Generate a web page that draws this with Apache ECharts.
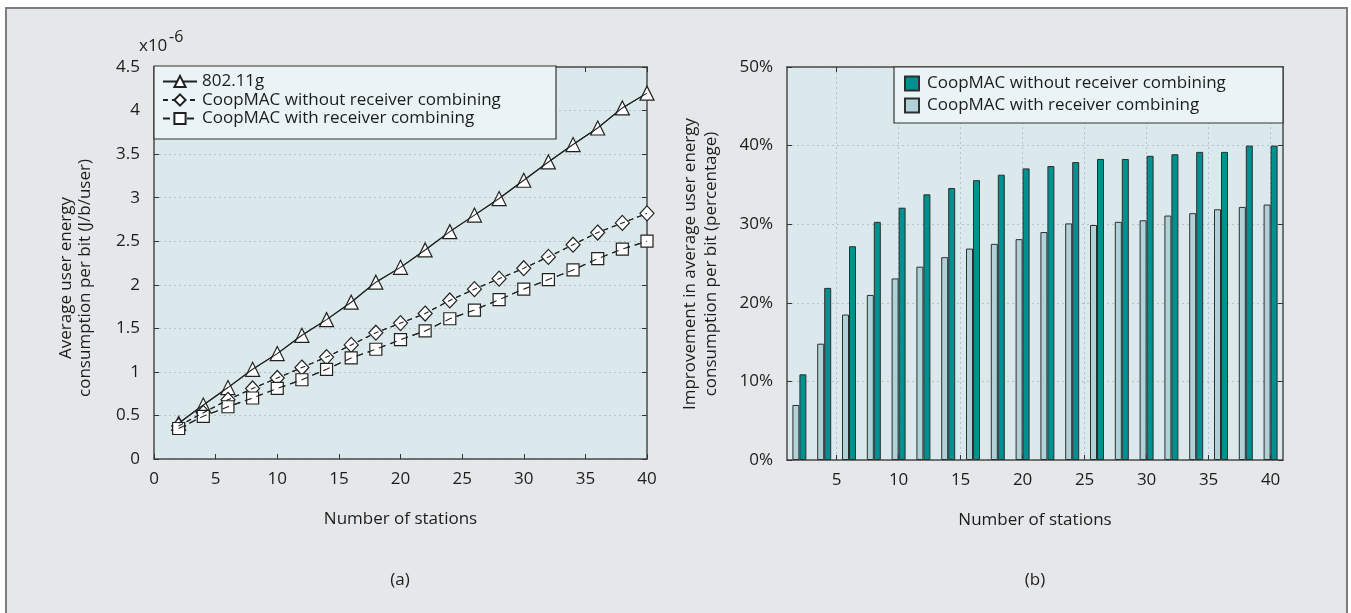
<!DOCTYPE html>
<html>
<head>
<meta charset="utf-8">
<script src="https://cdn.jsdelivr.net/npm/echarts@6/dist/echarts.min.js"></script>
<style>
  html, body { margin: 0; padding: 0; background: #ffffff; overflow: hidden; }
  #frame { position: absolute; left: 5px; top: 7px; width: 1343px; height: 620px;
           background: #e6e7e9; border: 2px solid #7d7d7d; box-sizing: border-box; }
  #chart { position: absolute; left: 0; top: 0; width: 1351px; height: 613px; }
</style>
</head>
<body>
<div id="frame"></div>
<div id="chart"></div>
<script>
// Number of stations (shared by both panels)
const stations = [2, 4, 6, 8, 10, 12, 14, 16, 18, 20, 22, 24, 26, 28, 30, 32, 34, 36, 38, 40];

// (a) Average user energy per bit, in units of 1e-6 J/b/user
const energy80211g   = [0.41, 0.62, 0.82, 1.03, 1.21, 1.42, 1.60, 1.80, 2.03, 2.20, 2.40, 2.61, 2.80, 2.99, 3.20, 3.41, 3.61, 3.80, 4.03, 4.20];
const energyCoopNoRx = [0.38, 0.53, 0.68, 0.81, 0.93, 1.05, 1.17, 1.31, 1.45, 1.56, 1.67, 1.82, 1.95, 2.07, 2.19, 2.32, 2.46, 2.60, 2.71, 2.82];
const energyCoopRx   = [0.35, 0.49, 0.60, 0.70, 0.81, 0.91, 1.03, 1.16, 1.26, 1.37, 1.47, 1.61, 1.71, 1.83, 1.95, 2.06, 2.17, 2.30, 2.41, 2.50];

// (b) Improvement in average user energy per bit (%)
const gainCoopNoRx = [10.9, 21.9, 27.2, 30.3, 32.1, 33.8, 34.6, 35.6, 36.3, 37.1, 37.4, 37.9, 38.3, 38.3, 38.7, 38.9, 39.2, 39.2, 40.0, 40.0];
const gainCoopRx   = [7.0, 14.8, 18.5, 21.0, 23.1, 24.6, 25.8, 26.9, 27.5, 28.1, 29.0, 30.1, 29.9, 30.3, 30.5, 31.1, 31.4, 31.9, 32.2, 32.5];

// Tick labels
const energyTicksX = [0, 5, 10, 15, 20, 25, 30, 35, 40];
const gainTicksX   = [5, 10, 15, 20, 25, 30, 35, 40];

const NAME_80211G = '802.11g';
const NAME_NO_RX  = 'CoopMAC without receiver combining';
const NAME_RX     = 'CoopMAC with receiver combining';
// panel (b) series carry a suffix so their legend picks the bar styling
const SUFFIX_B = ' (b)';

const FONT = "'Open Sans', 'Noto Sans', sans-serif";
const FS = 17;
const INK = '#1c1c1c';
const AXIS = '#4a4a4a';

const pairs = (xs, ys) => xs.map((x, i) => [x, ys[i]]);

const tickStyle = { inside: true, length: 5, lineStyle: { color: '#333', width: 1 } };
const lineAxis = { show: true, onZero: false, lineStyle: { color: AXIS, width: 1.5 } };
const dotted = { show: true, lineStyle: { color: '#b8c1c4', width: 1, type: [2, 3] } };
const labelStyle = { fontFamily: FONT, fontSize: FS, color: INK };
const nameStyle = { fontFamily: FONT, fontSize: FS, color: INK };
const textFont = FS + "px 'Open Sans', sans-serif";

const chart = echarts.init(document.getElementById('chart'), null, { renderer: 'canvas' });

const lineStyleA = { color: '#222', width: 1.1 };
const markerStyle = { color: '#ffffff', borderColor: '#222', borderWidth: 1.2 };

chart.setOption({
  animation: false,
  backgroundColor: 'transparent',
  textStyle: { fontFamily: FONT },
  grid: [
    { left: 154, top: 67, width: 493, height: 392, show: true, backgroundColor: '#dbe9ec', borderWidth: 0 },
    { left: 787, top: 67, width: 496, height: 393, show: true, backgroundColor: '#dbe9ec', borderWidth: 0 }
  ],
  xAxis: [
    {
      gridIndex: 0, type: 'value', position: 'bottom', min: 0, max: 40, interval: 5,
      axisLine: lineAxis, axisTick: tickStyle,
      axisLabel: Object.assign({ margin: 12, customValues: energyTicksX }, labelStyle),
      splitLine: { show: false },
      name: 'Number of stations', nameLocation: 'middle', nameGap: 52, nameTextStyle: nameStyle
    },
    {
      gridIndex: 0, type: 'value', position: 'top', min: 0, max: 40, interval: 5,
      axisLine: lineAxis, axisTick: tickStyle, axisLabel: { show: false }, splitLine: { show: false }
    },
    {
      gridIndex: 1, type: 'value', position: 'bottom', min: 1, max: 41,
      axisLine: lineAxis,
      axisTick: Object.assign({ customValues: gainTicksX }, tickStyle),
      axisLabel: Object.assign({ margin: 12, customValues: gainTicksX }, labelStyle),
      splitLine: dotted,
      name: 'Number of stations', nameLocation: 'middle', nameGap: 52, nameTextStyle: nameStyle
    },
    {
      gridIndex: 1, type: 'value', position: 'top', min: 1, max: 41,
      axisLine: lineAxis,
      axisTick: Object.assign({ customValues: gainTicksX }, tickStyle),
      axisLabel: { show: false }, splitLine: { show: false }
    }
  ],
  yAxis: [
    {
      gridIndex: 0, type: 'value', position: 'left', min: 0, max: 4.5, interval: 0.5,
      axisLine: lineAxis, axisTick: tickStyle,
      axisLabel: Object.assign({ margin: 14 }, labelStyle),
      splitLine: dotted
    },
    {
      gridIndex: 0, type: 'value', position: 'right', min: 0, max: 4.5, interval: 0.5,
      axisLine: lineAxis, axisTick: tickStyle, axisLabel: { show: false }, splitLine: { show: false }
    },
    {
      gridIndex: 1, type: 'value', position: 'left', min: 0, max: 50, interval: 10,
      axisLine: lineAxis, axisTick: tickStyle,
      axisLabel: Object.assign({ margin: 14, formatter: '{value}%' }, labelStyle),
      splitLine: dotted
    },
    {
      gridIndex: 1, type: 'value', position: 'right', min: 0, max: 50, interval: 10,
      axisLine: lineAxis, axisTick: tickStyle, axisLabel: { show: false }, splitLine: { show: false }
    }
  ],
  legend: [
    {
      data: [NAME_80211G, NAME_NO_RX, NAME_RX],
      orient: 'vertical', left: 162, top: 73, padding: 0, z: 12,
      itemWidth: 34, itemHeight: 14, itemGap: 1.5,
      selectedMode: false,
      textStyle: { fontFamily: FONT, fontSize: FS, color: INK, lineHeight: 17 }
    },
    {
      data: [NAME_NO_RX + SUFFIX_B, NAME_RX + SUFFIX_B],
      formatter: (name) => name.replace(SUFFIX_B, ''),
      orient: 'vertical', left: 904, top: 75, padding: 0, z: 12,
      itemWidth: 14, itemHeight: 14, itemGap: 5, icon: 'rect',
      selectedMode: false,
      textStyle: { fontFamily: FONT, fontSize: FS, color: INK, lineHeight: 17, padding: [0, 0, 0, 3] }
    }
  ],
  graphic: [
    { type: 'rect', z: 10, shape: { x: 154, y: 66, width: 402, height: 73 },
      style: { fill: '#eaf4f6', stroke: '#333', lineWidth: 1.2 } },
    { type: 'rect', z: 10, shape: { x: 894, y: 67, width: 389, height: 56 },
      style: { fill: '#eaf4f6', stroke: '#333', lineWidth: 1.2 } },
    { type: 'text', z: 10, x: 139, y: 38, style: { text: 'x10', font: textFont, fill: INK } },
    { type: 'text', z: 10, x: 169, y: 29, style: { text: '-6', font: "16px 'Open Sans', sans-serif", fill: INK } },
    { type: 'text', z: 10, x: 76, y: 278, rotation: Math.PI / 2,
      style: { text: 'Average user energy\nconsumption per bit (J/b/user)', font: textFont, fill: INK,
               align: 'center', verticalAlign: 'middle', lineHeight: 19 } },
    { type: 'text', z: 10, x: 701, y: 264, rotation: Math.PI / 2,
      style: { text: 'Improvement in average user energy\nconsumption per bit (percentage)', font: textFont, fill: INK,
               align: 'center', verticalAlign: 'middle', lineHeight: 21 } },
    { type: 'text', z: 10, x: 400, y: 580, style: { text: '(a)', font: textFont, fill: INK, align: 'center', verticalAlign: 'middle' } },
    { type: 'text', z: 10, x: 1035, y: 580, style: { text: '(b)', font: textFont, fill: INK, align: 'center', verticalAlign: 'middle' } }
  ],
  series: [
    // (a) marker series
    { type: 'line', name: NAME_80211G, xAxisIndex: 0, yAxisIndex: 0, data: pairs(stations, energy80211g),
      symbol: 'triangle', symbolSize: [14, 14], showAllSymbol: true, z: 3,
      itemStyle: markerStyle, lineStyle: lineStyleA },
    { type: 'line', name: NAME_NO_RX, xAxisIndex: 0, yAxisIndex: 0, data: pairs(stations, energyCoopNoRx),
      symbol: 'diamond', symbolSize: [14, 15], showAllSymbol: true, z: 3,
      itemStyle: markerStyle, lineStyle: Object.assign({ type: [5, 4] }, lineStyleA) },
    { type: 'line', name: NAME_RX, xAxisIndex: 0, yAxisIndex: 0, data: pairs(stations, energyCoopRx),
      symbol: 'rect', symbolSize: 12, showAllSymbol: true, z: 3,
      itemStyle: markerStyle, lineStyle: Object.assign({ type: [7, 5] }, lineStyleA) },
    // (a) traces drawn over the hollow markers
    { type: 'line', name: '802.11g trace', xAxisIndex: 0, yAxisIndex: 0, data: pairs(stations, energy80211g),
      symbol: 'none', z: 4, silent: true, lineStyle: lineStyleA },
    { type: 'line', name: 'no-combining trace', xAxisIndex: 0, yAxisIndex: 0, data: pairs(stations, energyCoopNoRx),
      symbol: 'none', z: 4, silent: true, lineStyle: Object.assign({ type: [5, 4] }, lineStyleA) },
    { type: 'line', name: 'combining trace', xAxisIndex: 0, yAxisIndex: 0, data: pairs(stations, energyCoopRx),
      symbol: 'none', z: 4, silent: true, lineStyle: Object.assign({ type: [7, 5] }, lineStyleA) },
    // (b) bars: combining on the left of each pair, no combining on the right
    { type: 'bar', name: NAME_RX + SUFFIX_B, xAxisIndex: 2, yAxisIndex: 2, data: pairs(stations, gainCoopRx),
      barWidth: 7, barGap: '0%',
      itemStyle: { color: '#aed2d7', borderColor: '#2e2e2e', borderWidth: 1 } },
    { type: 'bar', name: NAME_NO_RX + SUFFIX_B, xAxisIndex: 2, yAxisIndex: 2, data: pairs(stations, gainCoopNoRx),
      barWidth: 7, barGap: '0%',
      itemStyle: { color: '#00908f', borderColor: '#2e2e2e', borderWidth: 1 } }
  ]
});
</script>
</body>
</html>
